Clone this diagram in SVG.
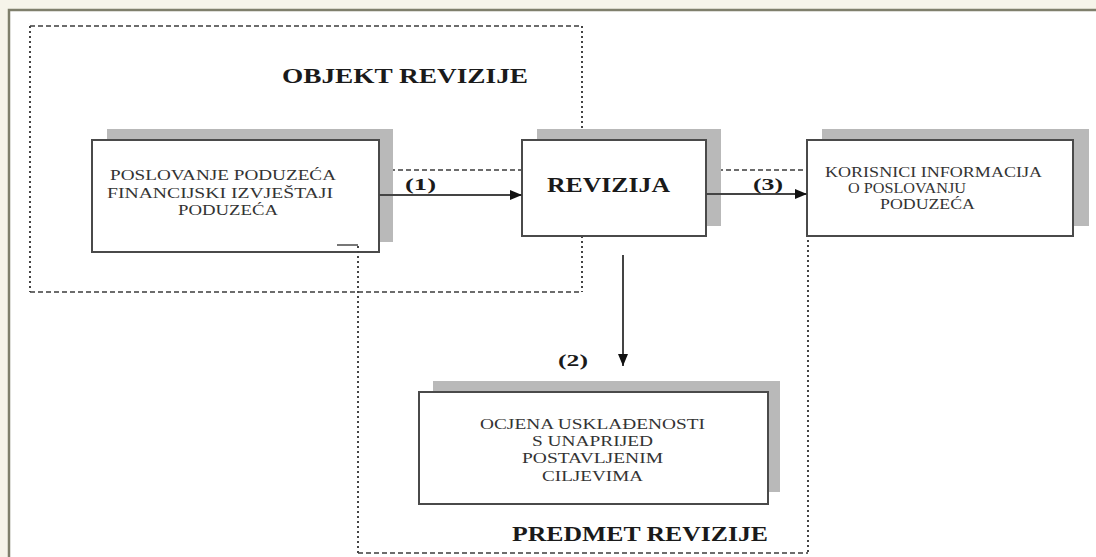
<svg xmlns="http://www.w3.org/2000/svg" width="1096" height="557" viewBox="0 0 1096 557">
<defs>
<style>
.frame{fill:#ffffff;stroke:#7f7f6c;stroke-width:2.5}
.shadow{fill:#b9b9b9}
.box{fill:#ffffff;stroke:#4a4a4a;stroke-width:2}
.dh{fill:none;stroke:#3c3c3c;stroke-width:1.5;stroke-dasharray:5 3}
.dv{fill:none;stroke:#444;stroke-width:2;stroke-dasharray:2 3}
.conn{fill:none;stroke:#444;stroke-width:2}
.t{font-family:"Liberation Serif","Times New Roman",serif;font-size:15px;fill:#333}
.b{font-family:"Liberation Serif","Times New Roman",serif;font-weight:bold;fill:#1a1a1a}
</style>
<marker id="ah" markerWidth="12" markerHeight="10" refX="12" refY="5" orient="auto" markerUnits="userSpaceOnUse">
<path d="M0,0 L12,5 L0,10 Z" fill="#111"/>
</marker>
</defs>
<rect x="0" y="0" width="1096" height="557" fill="#f6f4ea"/>
<rect class="frame" x="9" y="10" width="1100" height="560"/>

<g id="region-objekt">
<path class="dh" d="M30,26 H582 M30,292 H582"/>
<path class="dv" d="M30,26 V292 M582,26 V292"/>
<text class="b" x="282" y="83" font-size="21" textLength="246" lengthAdjust="spacingAndGlyphs">OBJEKT REVIZIJE</text>
</g>

<g id="region-predmet">
<path class="dh" d="M358,170 H808 M358,553 H808"/>
<path class="dv" d="M808,170 V553"/>
<text class="b" x="512" y="541" font-size="21" textLength="256" lengthAdjust="spacingAndGlyphs">PREDMET REVIZIJE</text>
</g>

<g id="node-poslovanje">
<rect class="shadow" x="107" y="129" width="286" height="113"/>
<rect class="box" x="92" y="140" width="287" height="112"/>
<text class="t" x="110" y="180" textLength="226" lengthAdjust="spacingAndGlyphs">POSLOVANJE PODUZEĆA</text>
<text class="t" x="107" y="198" textLength="226" lengthAdjust="spacingAndGlyphs">FINANCIJSKI IZVJEŠTAJI</text>
<text class="t" x="178" y="215" textLength="100" lengthAdjust="spacingAndGlyphs">PODUZEĆA</text>
</g>

<g id="node-revizija">
<rect class="shadow" x="537" y="129" width="184" height="97"/>
<rect class="box" x="522" y="140" width="184" height="96"/>
<text class="b" x="547" y="192" font-size="21" textLength="123" lengthAdjust="spacingAndGlyphs">REVIZIJA</text>
</g>

<g id="node-korisnici">
<rect class="shadow" x="822" y="129" width="267" height="97"/>
<rect class="box" x="807" y="140" width="266" height="96"/>
<text class="t" font-size="14" x="825" y="177" textLength="217" lengthAdjust="spacingAndGlyphs">KORISNICI INFORMACIJA</text>
<text class="t" font-size="14" x="848" y="193" textLength="118" lengthAdjust="spacingAndGlyphs">O POSLOVANJU</text>
<text class="t" font-size="14" x="880" y="209" textLength="95" lengthAdjust="spacingAndGlyphs">PODUZEĆA</text>
</g>

<g id="node-ocjena">
<rect class="shadow" x="433" y="381" width="347" height="111"/>
<rect class="box" x="419" y="392" width="349" height="112"/>
<text class="t" x="480" y="429" textLength="225" lengthAdjust="spacingAndGlyphs">OCJENA USKLAĐENOSTI</text>
<text class="t" x="532" y="446" textLength="121" lengthAdjust="spacingAndGlyphs">S UNAPRIJED</text>
<text class="t" x="522" y="463" textLength="141" lengthAdjust="spacingAndGlyphs">POSTAVLJENIM</text>
<text class="t" x="542" y="481" textLength="101" lengthAdjust="spacingAndGlyphs">CILJEVIMA</text>
</g>

<g id="predmet-left">
<path class="dv" d="M358,246 V553"/>
<path d="M337,245 H358" stroke="#555" stroke-width="1.6" fill="none"/>
</g>

<g id="connectors">
<line class="conn" x1="379" y1="195" x2="522" y2="195" marker-end="url(#ah)"/>
<line class="conn" x1="706" y1="194" x2="807" y2="194" marker-end="url(#ah)"/>
<line class="conn" stroke-width="1.6" x1="623" y1="255" x2="623" y2="366" marker-end="url(#ah)"/>
<text class="b" x="405" y="190" font-size="17" textLength="31" lengthAdjust="spacingAndGlyphs">(1)</text>
<text class="b" x="558" y="366" font-size="17" textLength="30" lengthAdjust="spacingAndGlyphs">(2)</text>
<text class="b" x="753" y="190" font-size="17" textLength="30" lengthAdjust="spacingAndGlyphs">(3)</text>
</g>
</svg>
